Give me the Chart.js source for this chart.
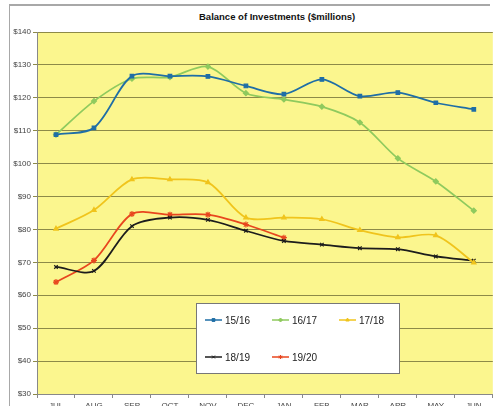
<!DOCTYPE html>
<html>
<head>
<meta charset="utf-8">
<script src="https://cdn.jsdelivr.net/npm/chart.js@4"></script>
<style>
  html, body { margin: 0; padding: 0; background: #fff; overflow: hidden; width: 498px; height: 406px; }
  #wrap { position: absolute; left: 0; top: 0; width: 498px; height: 406px; }
  #frame { position: absolute; left: 9px; top: 4px; width: 480px; height: 400px;
           border-left: 1px solid #a8a8a8; border-top: 2px solid #a8a8a8; }
  #title { position: absolute; left: 199px; top: 11px; font: bold 9.5px "Liberation Sans", Arial, sans-serif;
           color: #111; white-space: nowrap; }
</style>
</head>
<body>
<div id="frame"></div>
<div id="title">Balance of Investments ($millions)</div>
<div id="wrap"><canvas id="invChart"></canvas></div>
<script>
// data
var months = ['JUL', 'AUG', 'SEP', 'OCT', 'NOV', 'DEC', 'JAN', 'FEB', 'MAR', 'APR', 'MAY', 'JUN'];
var yTicks = [30, 40, 50, 60, 70, 80, 90, 100, 110, 120, 130, 140];
var seriesNames = ['15/16', '16/17', '17/18', '18/19', '19/20'];
var fy1516 = [108.8, 110.9, 126.6, 126.6, 126.5, 123.6, 121.1, 125.6, 120.5, 121.6, 118.5, 116.5];
var fy1617 = [108.8, 119.0, 125.8, 126.3, 129.5, 121.4, 119.5, 117.3, 112.5, 101.6, 94.6, 85.7];
var fy1718 = [80.2, 85.9, 95.2, 95.2, 94.3, 83.6, 83.6, 83.1, 79.8, 77.6, 78.2, 69.9];
var fy1819 = [68.6, 67.4, 81.0, 83.6, 82.9, 79.6, 76.5, 75.4, 74.3, 74.0, 71.8, 70.5];
var fy1920 = [64.0, 70.6, 84.7, 84.5, 84.5, 81.5, 77.5, null, null, null, null, null];

function mkSet(label, data, color, style, rad) {
    return {
        label: label,
        data: data,
        borderColor: color,
        backgroundColor: color,
        borderWidth: 1.75,
        pointStyle: style,
        pointRadius: rad,
        pointBorderWidth: 1.2,
        tension: 0.3,
        spanGaps: false
    };
}

// 플롯 배경 (노란색)
var plotBg = {
    id: 'plotBg',
    beforeDraw: function(chart) {
        var a = chart.chartArea, c = chart.ctx;
        c.save();
        c.fillStyle = '#fbf68e';
        c.fillRect(a.left, a.top, a.right - a.left, a.bottom - a.top);
        c.restore();
    }
};

// 범례 상자 (차트 안쪽)
var boxLegend = {
    id: 'boxLegend',
    afterDraw: function(chart) {
        var c = chart.ctx;
        var x0 = 196, y0 = 303, w = 203, h = 70;
        c.save();
        c.fillStyle = '#ffffff';
        c.fillRect(x0, y0, w, h);
        c.strokeStyle = '#777';
        c.lineWidth = 1;
        c.strokeRect(x0 + 0.5, y0 + 0.5, w, h);
        var cols = [205, 272, 339];
        var rows = [320, 357];
        c.font = '10px "Liberation Sans", Arial, sans-serif';
        c.textBaseline = 'middle';
        chart.data.datasets.forEach(function(ds, i) {
            var x = cols[i % 3], y = rows[Math.floor(i / 3)];
            c.strokeStyle = ds.borderColor;
            c.lineWidth = 1.5;
            c.beginPath();
            c.moveTo(x, y);
            c.lineTo(x + 17, y);
            c.stroke();
            c.fillStyle = ds.backgroundColor;
            c.lineWidth = 1;
            Chart.helpers.drawPoint(c, { pointStyle: ds.pointStyle, radius: 2, borderWidth: 1, rotation: 0 }, x + 8.5, y);
            c.fillStyle = '#222';
            c.fillText(ds.label, x + 20, y + 1);
        });
        c.restore();
    }
};

var ctx = document.getElementById('invChart').getContext('2d');
var chart = new Chart(ctx, {
    type: 'line',
    data: {
        labels: months,
        datasets: [
            mkSet(seriesNames[0], fy1516, '#1f6ea6', 'rect', 2.5),
            mkSet(seriesNames[1], fy1617, '#8fca5e', 'rectRot', 2.5),
            mkSet(seriesNames[2], fy1718, '#f0c41c', 'triangle', 2.5),
            mkSet(seriesNames[3], fy1819, '#1c1c1c', 'crossRot', 2.5),
            mkSet(seriesNames[4], fy1920, '#e8461e', 'star', 3)
        ]
    },
    options: {
        responsive: true,
        maintainAspectRatio: false,
        animation: false,
        layout: { padding: { top: 32, right: 0, left: 0, bottom: 0 } },
        scales: {
            x: {
                offset: true,
                grid: { display: true, drawOnChartArea: false, drawTicks: true, tickLength: 4, offset: true, color: '#888' },
                border: { color: '#888', width: 1 },
                ticks: { color: '#444', padding: 3, font: { family: 'Liberation Sans', size: 8 }, autoSkip: false, maxRotation: 0 },
                afterFit: function(scale) {
                    scale.height = 12;
                    scale.paddingLeft = 0;
                    scale.paddingRight = 0;
                }
            },
            y: {
                min: 30,
                max: 140,
                afterBuildTicks: function(scale) {
                    scale.ticks = yTicks.map(function(v) { return { value: v }; });
                },
                grid: { color: '#8d8a48', lineWidth: 1, tickLength: 4, drawTicks: true },
                border: { color: '#888', width: 1 },
                ticks: {
                    color: '#444',
                    padding: 2,
                    font: { family: 'Liberation Sans', size: 8 },
                    callback: function(v) { return '$' + v; }
                },
                afterFit: function(scale) { scale.width = 37; }
            }
        },
        plugins: {
            legend: { display: false },
            tooltip: { enabled: false }
        }
    },
    plugins: [plotBg, boxLegend]
});
</script>
</body>
</html>
